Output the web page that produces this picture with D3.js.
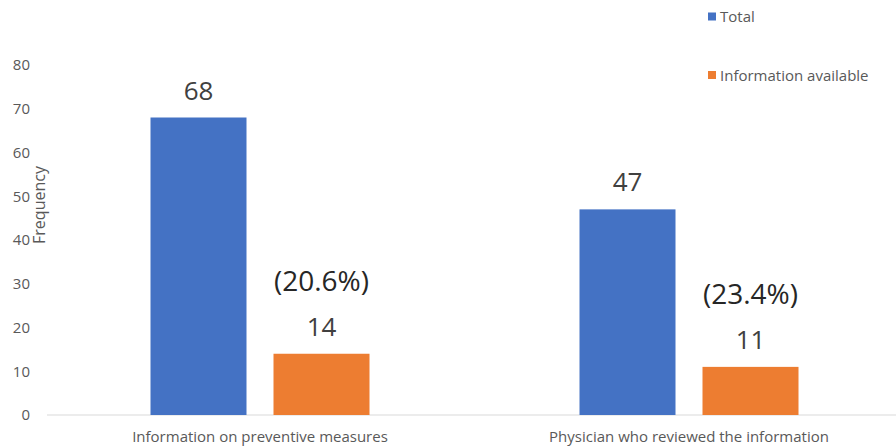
<!DOCTYPE html>
<html>
<head>
<meta charset="utf-8">
<script src="https://cdn.jsdelivr.net/npm/d3@7/dist/d3.min.js"></script>
<style>
  html, body { margin: 0; padding: 0; background: #fff; }
  svg { display: block; font-family: "Open Sans", "Noto Sans", sans-serif; }
</style>
</head>
<body>
<svg id="chart" width="896" height="448"></svg>
<script>
// Chart data
const categories = ["Information on preventive measures", "Physician who reviewed the information"];
const seriesNames = ["Total", "Information available"];
const totalValues = [68, 47];
const availableValues = [14, 11];
const percentLabels = ["(20.6%)", "(23.4%)"];
const yTicks = [0, 10, 20, 30, 40, 50, 60, 70, 80];
const colors = ["#4472c4", "#ed7d31"];

const svg = d3.select("#chart");
const W = 896, H = 448;

const y = d3.scaleLinear().domain([0, 80]).range([415, 65]);
const x0 = d3.scaleBand().domain(categories).range([45.5, 903.5]);
const x1 = d3.scaleBand().domain(seriesNames).range([-109.5, 109.5]).paddingInner(0.2195);

// Baseline
svg.append("line")
  .attr("x1", 47).attr("x2", W)
  .attr("y1", y(0)).attr("y2", y(0))
  .attr("stroke", "#d9d9d9").attr("stroke-width", 1);

// Y axis tick labels
const yAxis = d3.axisLeft(y).tickValues(yTicks).tickSize(0).tickPadding(0);
const gy = svg.append("g").attr("transform", "translate(30,0)").call(yAxis);
gy.select(".domain").remove();
gy.selectAll("text")
  .attr("fill", "#595959")
  .style("font-size", "15px")
  .style("font-family", "'Open Sans', 'Noto Sans', sans-serif");

// Y axis title
svg.append("text")
  .attr("transform", "translate(45,205) rotate(-90)")
  .attr("text-anchor", "middle")
  .attr("fill", "#595959")
  .style("font-size", "16px")
  .text("Frequency");

// Bars
const rows = categories.map((c, i) => ({
  category: c,
  values: [
    { series: seriesNames[0], value: totalValues[i] },
    { series: seriesNames[1], value: availableValues[i] }
  ],
  pct: percentLabels[i]
}));

const groups = svg.selectAll("g.group").data(rows).enter().append("g")
  .attr("class", "group")
  .attr("transform", d => `translate(${x0(d.category) + x0.bandwidth() / 2},0)`);

groups.selectAll("rect").data(d => d.values).enter().append("rect")
  .attr("x", d => x1(d.series))
  .attr("width", x1.bandwidth())
  .attr("y", d => y(d.value))
  .attr("height", d => y(0) - y(d.value))
  .attr("fill", (d, i) => colors[i]);

// Value labels
groups.selectAll("text.value").data(d => d.values).enter().append("text")
  .attr("class", "value")
  .attr("x", d => x1(d.series) + x1.bandwidth() / 2)
  .attr("y", d => y(d.value) - 18)
  .attr("text-anchor", "middle")
  .attr("fill", "#404040")
  .style("font-size", "26px")
  .text(d => d.value);

// Percentage labels above the "Information available" values
groups.append("text")
  .attr("x", x1(seriesNames[1]) + x1.bandwidth() / 2)
  .attr("y", d => y(d.values[1].value) - 18 - 45)
  .attr("text-anchor", "middle")
  .attr("fill", "#262626")
  .style("font-size", "28px")
  .text(d => d.pct);

// Category labels
svg.selectAll("text.cat").data(categories).enter().append("text")
  .attr("class", "cat")
  .attr("x", d => x0(d) + x0.bandwidth() / 2)
  .attr("y", 442)
  .attr("text-anchor", "middle")
  .attr("fill", "#595959")
  .style("font-size", "15px")
  .text(d => d);

// Legend
const legend = svg.selectAll("g.legend").data(seriesNames).enter().append("g")
  .attr("class", "legend")
  .attr("transform", (d, i) => `translate(708,${[16.5, 75][i]})`);
legend.append("rect").attr("y", -4).attr("width", 8).attr("height", 8).attr("fill", (d, i) => colors[i]);
legend.append("text")
  .attr("x", 12).attr("y", 5.5)
  .attr("fill", "#595959")
  .style("font-size", "15px")
  .text(d => d);
</script>
</body>
</html>
